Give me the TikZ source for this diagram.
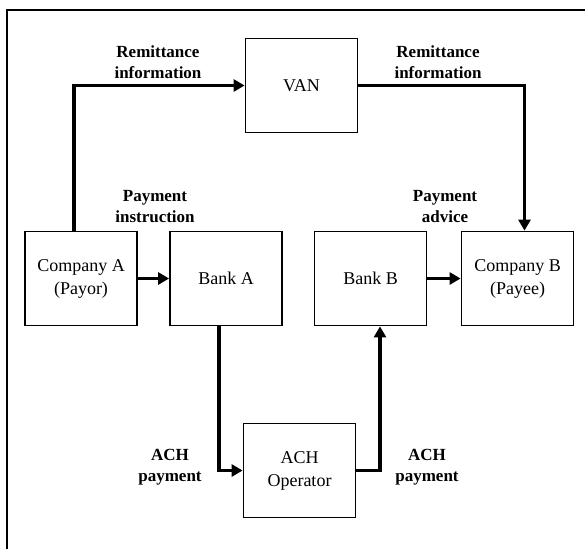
\documentclass[tikz,border=0pt]{standalone}
\usepackage{fontspec}
\setmainfont{Liberation Serif}
\usetikzlibrary{calc,arrows.meta}
\tikzset{
  box/.style={draw, line width=1.8pt, minimum width=112pt, minimum height=94pt, inner sep=0pt, align=center,
    font=\fontsize{18}{23}\selectfont},
  lbl/.style={align=center, inner sep=0pt, font=\fontsize{17}{21}\selectfont\bfseries},
  arr/.style={line width=3.2pt, -{Triangle[length=11pt,width=12pt]}},
  frame/.style={line width=1.6pt}
}
\begin{document}
\begin{tikzpicture}[x=1pt,y=-1pt]
\useasboundingbox (0,0) rectangle (585,549);
\coordinate (ftl) at (7,10);
\coordinate (ftr) at (585,10);
\coordinate (fbl) at (7,549);
\draw[frame] (ftr) -- (ftl) -- (fbl);

\node[box] (van) at (301.5,85.5) {VAN};
\node[box] (compA) at (81,278.5) {Company A\\(Payor)};
\node[box] (bankA) at (226,278.5) {Bank A};
\node[box] (bankB) at (370.5,278.5) {Bank B};
\node[box] (compB) at (517.5,278.5) {Company B\\(Payee)};
\node[box] (ach) at (299.5,470.5) {ACH\\Operator};

\node[lbl] (rem1) at (158,62.5) {Remittance\\information};
\node[lbl] (rem2) at (438,62.5) {Remittance\\information};
\node[lbl] (pinst) at (155,207) {Payment\\instruction};
\node[lbl] (padv) at (445,207) {Payment\\advice};
\node[lbl] (achp1) at (170,467.5) {ACH\\payment};
\node[lbl] (achp2) at (427,467.5) {ACH\\payment};

\draw[arr] ($(compA.north)+(-7,0)$) |- (van.west);
\draw[arr] (van.east) -| ($(compB.north)+(7,0)$);
\draw[arr] (compA.east) -- (bankA.west);
\draw[arr] (bankB.east) -- (compB.west);
\draw[arr] ($(bankA.south)+(-7,0)$) |- (ach.west);
\draw[arr] (ach.east) -| ($(bankB.south)+(9.5,0)$);
\end{tikzpicture}
\end{document}
